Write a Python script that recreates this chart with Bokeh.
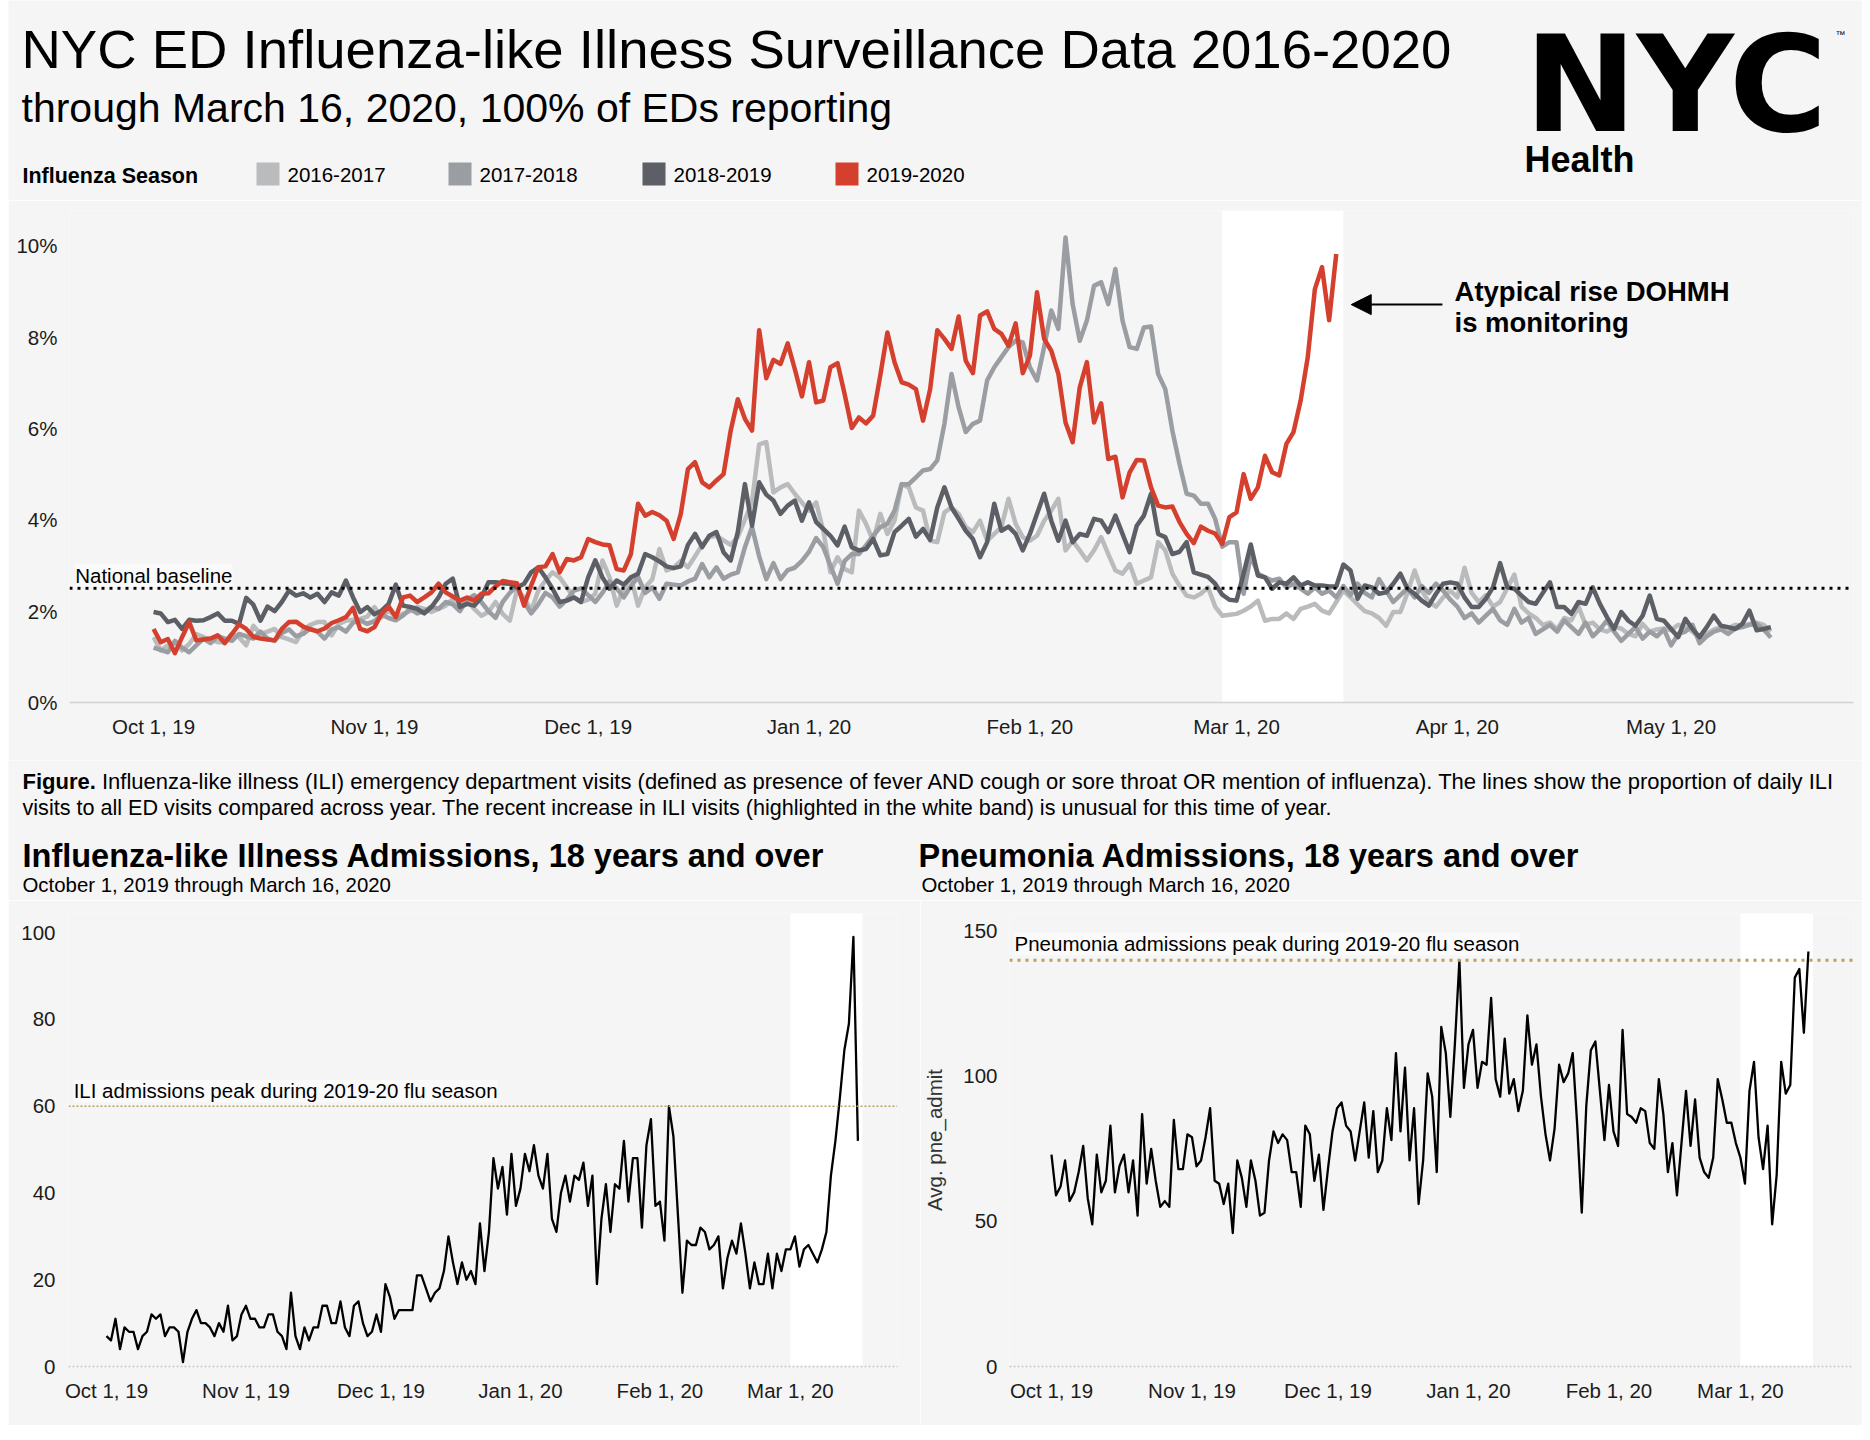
import pandas as pd
from bokeh.plotting import figure
from bokeh.models import Range1d, FixedTicker, BoxAnnotation, Span, Label, Arrow, NormalHead
from bokeh.layouts import column, row
from bokeh.embed import file_html
from bokeh.resources import INLINE
from bokeh.core.properties import value

FONT = "Liberation Sans"
BG = "#f5f5f5"

# ---------------- data ----------------
season_start = "2019-10-01"   # day 0 of every season series (aligned by day of season)

ili_2016_17 = [
    1.43, 1.14, 1.25, 1.32, 1.14, 1.28, 1.50, 1.43, 1.38, 1.32,
    1.32, 1.50, 1.43, 1.25, 1.68, 1.50, 1.55, 1.61, 1.43, 1.38,
    1.32, 1.58, 1.70, 1.76, 1.76, 1.47, 1.72, 1.79, 1.81, 1.83,
    1.88, 2.09, 1.87, 2.01, 1.87, 1.94, 2.00, 2.09, 2.05, 1.98,
    2.05, 2.12, 2.27, 2.12, 2.23, 2.05, 1.90, 1.98, 2.20, 1.94,
    1.79, 2.45, 2.30, 2.01, 2.45, 2.67, 2.85, 2.74, 2.52, 2.30,
    2.20, 2.25, 2.38, 3.11, 2.74, 2.12, 2.50, 2.74, 2.12, 2.52,
    2.70, 3.36, 2.89, 2.95, 3.10, 2.96, 3.20, 3.45, 3.62, 3.65,
    3.55, 3.45, 3.62, 4.00, 4.40, 5.65, 5.70, 4.60, 4.71, 4.78,
    4.57, 4.38, 4.20, 4.38, 3.76, 2.85, 3.18, 2.92, 2.85, 4.20,
    3.91, 3.54, 4.13, 3.69, 3.98, 4.78, 4.71, 4.27, 4.20, 3.54,
    3.51, 4.16, 4.27, 4.13, 3.84, 3.73, 3.98, 3.54, 3.69, 3.84,
    4.46, 3.91, 3.62, 3.54, 3.65, 3.98, 4.20, 4.46, 3.33, 3.54,
    3.33, 3.11, 3.33, 3.62, 3.25, 2.89, 2.82, 3.03, 2.60, 2.67,
    2.74, 3.51, 3.33, 2.82, 2.56, 2.34, 2.30, 2.38, 2.52, 2.10,
    1.90, 1.92, 1.94, 2.01, 2.10, 2.23, 1.79, 1.83, 1.83, 1.95,
    1.83, 2.05, 2.10, 2.16, 2.01, 1.95, 2.20, 2.45, 2.30, 2.15,
    2.00, 1.95, 1.85, 1.68, 1.98, 1.98, 2.40, 2.89, 2.45, 2.20,
    2.10, 2.30, 2.45, 2.30, 2.95, 2.40, 2.20, 2.35, 2.10, 2.20,
    2.50, 2.80, 2.10, 1.95, 1.85, 1.70, 1.75, 1.60, 1.85, 1.80,
    2.10, 1.70, 1.75, 1.60, 1.55, 1.65, 1.62, 1.50, 1.45, 1.72,
    1.55, 1.60, 1.62, 1.58, 1.70, 1.65, 1.55, 1.42, 1.50, 1.60,
    1.65, 1.62, 1.70, 1.68, 1.72, 1.75, 1.70, 1.55,
]

ili_2017_18 = [
    1.20, 1.15, 1.10, 1.35, 1.20, 1.10, 1.25, 1.40, 1.30, 1.45,
    1.40, 1.35, 1.50, 1.45, 1.40, 1.55, 1.40, 1.35, 1.52, 1.60,
    1.45, 1.50, 1.62, 1.55, 1.40, 1.60, 1.65, 1.55, 1.75, 1.80,
    1.72, 1.78, 1.92, 1.85, 1.80, 1.90, 2.05, 1.95, 2.00, 2.10,
    2.05, 2.20, 2.15, 2.00, 2.25, 2.35, 2.20, 2.00, 1.85, 2.20,
    2.40, 2.55, 2.20, 1.95, 2.15, 2.40, 2.30, 2.10, 2.25, 2.45,
    2.50, 2.35, 2.20, 2.40, 2.65, 2.50, 2.30, 2.55, 2.75, 2.40,
    2.52, 2.27, 2.60, 2.58, 2.56, 2.65, 2.71, 3.03, 2.74, 2.96,
    2.71, 2.80, 2.85, 3.40, 3.84, 3.20, 2.70, 3.05, 2.70, 2.90,
    2.95, 3.10, 3.30, 3.60, 3.40, 3.00, 2.60, 3.10, 3.25, 3.25,
    3.44, 3.65, 3.84, 3.91, 4.20, 4.78, 4.78, 4.93, 5.08, 5.11,
    5.30, 6.10, 7.19, 6.46, 5.92, 6.10, 6.17, 7.05, 7.34, 7.56,
    7.78, 7.92, 7.88, 7.34, 7.05, 7.78, 8.58, 8.18, 10.18, 8.72,
    7.92, 8.36, 9.12, 9.20, 8.72, 9.49, 8.36, 7.78, 7.74, 8.21,
    8.23, 7.19, 6.86, 5.95, 5.22, 4.57, 4.53, 4.35, 4.35, 4.02,
    3.41, 3.51, 3.51, 2.38, 3.22, 2.82, 2.74, 2.67, 2.71, 2.52,
    2.60, 2.49, 2.38, 2.52, 2.38, 2.45, 2.30, 2.55, 2.35, 2.60,
    2.40, 2.30, 2.70, 2.45, 2.20, 2.35, 2.50, 2.30, 2.55, 2.40,
    2.60, 2.45, 2.25, 2.10, 1.85, 1.95, 1.75, 1.90, 2.05, 1.80,
    1.70, 2.05, 1.75, 1.85, 1.50, 1.60, 1.70, 1.55, 1.80, 1.65,
    1.50, 1.75, 1.45, 1.60, 1.80, 1.55, 1.35, 1.50, 1.65, 1.40,
    1.55, 1.45, 1.60, 1.25, 1.50, 1.55, 1.70, 1.30, 1.45, 1.55,
    1.60, 1.50, 1.62, 1.65, 1.70, 1.72, 1.60, 1.42,
]

ili_2018_19 = [
    1.98, 1.95, 1.76, 1.81, 1.61, 1.81, 1.79, 1.80, 1.87, 1.95,
    1.79, 1.79, 1.72, 2.29, 2.14, 1.79, 2.10, 2.00, 2.20, 2.45,
    2.34, 2.39, 2.30, 2.38, 2.20, 2.41, 2.34, 2.67, 2.30, 1.98,
    2.09, 1.93, 2.01, 2.16, 2.58, 2.12, 2.09, 2.05, 1.95, 2.09,
    2.30, 2.60, 2.71, 2.09, 2.16, 2.12, 2.30, 2.63, 2.63, 2.61,
    2.60, 2.52, 2.60, 2.85, 2.96, 2.74, 2.49, 2.20, 2.23, 2.30,
    2.20, 2.74, 3.11, 2.74, 2.49, 2.67, 2.58, 2.74, 2.82, 3.25,
    3.18, 3.09, 2.98, 2.94, 2.98, 3.45, 3.69, 3.40, 3.65, 3.73,
    3.29, 3.11, 3.73, 4.78, 3.87, 4.82, 4.55, 4.42, 4.13, 4.31,
    4.42, 3.98, 4.38, 3.95, 3.80, 3.65, 3.44, 3.85, 3.40, 3.33,
    3.36, 3.58, 3.22, 3.25, 3.73, 3.87, 4.02, 3.63, 3.80, 3.56,
    4.27, 4.71, 4.27, 4.02, 3.76, 3.58, 3.18, 3.51, 4.35, 3.76,
    3.85, 3.69, 3.33, 3.69, 4.13, 4.57, 3.98, 3.54, 3.98, 3.51,
    3.69, 3.65, 4.02, 3.98, 3.73, 4.09, 3.69, 3.29, 3.87, 4.09,
    4.57, 3.69, 3.62, 3.25, 3.30, 3.51, 2.85, 2.80, 2.75, 2.60,
    2.36, 2.25, 2.23, 2.82, 3.46, 2.78, 2.74, 2.49, 2.63, 2.60,
    2.74, 2.56, 2.63, 2.56, 2.56, 2.54, 2.54, 3.02, 2.89, 2.27,
    2.56, 2.52, 2.38, 2.41, 2.60, 2.82, 2.49, 2.38, 2.23, 2.12,
    2.38, 2.60, 2.63, 2.60, 2.30, 2.09, 2.09, 2.27, 2.52, 3.05,
    2.52, 2.49, 2.34, 2.20, 2.16, 2.40, 2.63, 2.09, 2.09, 1.94,
    2.20, 2.16, 2.52, 2.16, 1.87, 1.61, 1.98, 1.79, 1.68, 1.90,
    2.34, 1.83, 1.79, 1.61, 1.43, 1.83, 1.61, 1.43, 1.65, 1.90,
    1.68, 1.65, 1.61, 1.72, 2.01, 1.58, 1.61, 1.65,
]

ili_2019_20 = [
    1.61, 1.32, 1.39, 1.08, 1.43, 1.76, 1.36, 1.38, 1.40, 1.47,
    1.30, 1.50, 1.71, 1.61, 1.44, 1.40, 1.38, 1.36, 1.61, 1.76,
    1.77, 1.66, 1.60, 1.56, 1.62, 1.74, 1.80, 1.87, 2.07, 1.61,
    1.56, 1.65, 1.94, 2.10, 1.87, 2.30, 2.34, 2.20, 2.30, 2.41,
    2.60, 2.41, 2.32, 2.23, 2.30, 2.23, 2.38, 2.39, 2.54, 2.66,
    2.63, 2.61, 2.12, 2.56, 2.96, 2.98, 3.25, 2.85, 3.14, 3.11,
    3.18, 3.58, 3.51, 3.46, 3.44, 2.92, 2.89, 3.25, 4.35, 4.09,
    4.17, 4.10, 3.98, 3.58, 4.13, 5.11, 5.26, 4.82, 4.71, 4.86,
    5.00, 5.95, 6.64, 6.21, 5.95, 8.15, 7.10, 7.50, 7.41, 7.86,
    7.30, 6.70, 7.45, 6.57, 6.61, 7.34, 7.43, 6.75, 6.01, 6.24,
    6.11, 6.28, 7.16, 8.10, 7.45, 7.01, 6.96, 6.86, 6.17, 6.86,
    8.15, 7.96, 7.74, 8.45, 7.48, 7.21, 8.47, 8.56, 8.18, 8.07,
    7.81, 8.30, 7.21, 7.59, 8.98, 7.96, 7.70, 7.19, 6.13, 5.70,
    6.90, 7.45, 6.13, 6.55, 5.33, 5.38, 4.49, 5.04, 5.31, 5.30,
    4.71, 4.31, 4.27, 4.29, 3.95, 3.69, 3.49, 3.85, 3.76, 3.70,
    3.47, 4.06, 4.16, 5.00, 4.46, 4.71, 5.40, 5.04, 4.97, 5.66,
    5.92, 6.61, 7.56, 9.05, 9.53, 8.37, 9.82,
]

ili_admissions = [
    7, 6, 11, 4, 9, 8, 8, 4, 7, 8,
    12, 11, 12, 7, 9, 9, 8, 1, 8, 11,
    13, 10, 10, 9, 7, 10, 8, 14, 6, 7,
    12, 14, 11, 11, 9, 9, 12, 12, 8, 7,
    4, 17, 7, 4, 9, 6, 9, 9, 14, 14,
    10, 10, 15, 9, 7, 14, 15, 10, 7, 8,
    12, 8, 19, 16, 11, 13, 13, 13, 13, 21,
    21, 18, 15, 17, 18, 22, 30, 24, 19, 24,
    20, 22, 19, 33, 22, 31, 48, 41, 46, 35,
    49, 37, 41, 49, 45, 51, 44, 41, 49, 34,
    31, 40, 44, 38, 44, 43, 47, 37, 44, 19,
    34, 42, 31, 42, 41, 52, 38, 48, 48, 32,
    51, 57, 37, 38, 29, 60, 53, 35, 17, 29,
    28, 28, 32, 31, 27, 28, 30, 18, 25, 29,
    26, 33, 26, 18, 24, 19, 19, 26, 18, 26,
    22, 27, 27, 30, 23, 27, 28, 26, 24, 27,
    31, 44, 52, 62, 73, 79, 99, 52,
]

pne_admissions = [
    73, 59, 62, 71, 57, 60, 67, 76, 58, 49,
    73, 60, 64, 83, 60, 69, 73, 60, 71, 52,
    87, 63, 75, 64, 55, 57, 55, 85, 68, 68,
    80, 79, 69, 71, 79, 89, 64, 63, 56, 63,
    46, 71, 65, 55, 71, 64, 52, 53, 71, 81,
    77, 80, 78, 67, 67, 55, 83, 80, 64, 73,
    54, 68, 81, 89, 91, 83, 81, 71, 81, 91,
    72, 88, 67, 71, 89, 78, 108, 81, 103, 71,
    89, 56, 71, 101, 93, 67, 117, 108, 86, 111,
    140, 96, 111, 116, 96, 105, 104, 127, 99, 93,
    113, 94, 99, 88, 95, 121, 104, 111, 93, 80,
    71, 82, 104, 98, 101, 108, 83, 53, 90, 109,
    112, 95, 78, 97, 81, 76, 116, 87, 86, 84,
    89, 88, 77, 75, 99, 87, 67, 77, 59, 77,
    95, 76, 92, 72, 67, 65, 72, 99, 92, 84,
    84, 77, 72, 63, 95, 105, 79, 68, 83, 49,
    66, 105, 94, 97, 134, 137, 115, 143,
]

season_labels = ["2016-2017", "2017-2018", "2018-2019", "2019-2020"]
season_colors = ["#b9bbbd", "#9a9da2", "#5c5f66", "#d5402e"]
season_values = [ili_2016_17, ili_2017_18, ili_2018_19, ili_2019_20]

top_tick_dates = ["2019-10-01", "2019-11-01", "2019-12-01", "2020-01-01",
                  "2020-02-01", "2020-03-01", "2020-04-01", "2020-05-01"]
top_tick_labels = ["Oct 1, 19", "Nov 1, 19", "Dec 1, 19", "Jan 1, 20",
                   "Feb 1, 20", "Mar 1, 20", "Apr 1, 20", "May 1, 20"]
bottom_tick_dates = top_tick_dates[:6]
bottom_tick_labels = top_tick_labels[:6]

pct_ticks = [0, 2, 4, 6, 8, 10]
pct_labels = ["0%", "2%", "4%", "6%", "8%", "10%"]
ili_ticks = [0, 20, 40, 60, 80, 100]
pne_ticks = [0, 50, 100, 150]

national_baseline = 2.5
ili_peak = 60
pne_peak = 140

top_band = ("2020-02-28", "2020-03-16")
bottom_band = ("2020-03-01", "2020-03-17")


def day_of(d):
    return (pd.Timestamp(d) - pd.Timestamp(season_start)).days


# ---------------- helpers ----------------
def canvas(w, h):
    p = figure(width=w, height=h, x_range=Range1d(0, w), y_range=Range1d(h, 0),
               toolbar_location=None, output_backend="svg", min_border=0,
               min_border_left=0, min_border_right=0, min_border_top=0, min_border_bottom=0,
               x_axis_location=None, y_axis_location=None, frame_align=False,
               background_fill_color=BG, border_fill_color=BG, outline_line_color=None)
    p.grid.visible = False
    return p


def txt(p, x, y, s, size, bold=False, font=FONT, align="left", color="#000000"):
    # y is the vertical centre of the text line
    p.text(x=[x], y=[y], text=[s], text_font=value(font), text_font_size=value(size),
           text_font_style="bold" if bold else "normal", text_baseline="middle",
           text_align=align, text_color=color)


def style_axes(p, xticks, xlabels, yticks, ylabels, xline_color, xline_dash=None):
    p.grid.visible = False
    for ax in (p.xaxis, p.yaxis):
        ax.major_tick_line_color = None
        ax.minor_tick_line_color = None
        ax.major_tick_out = 0
        ax.major_tick_in = 0
        ax.major_label_text_font = FONT
        ax.major_label_text_font_size = "20.5px"
        ax.major_label_text_color = "#1c1c1c"
        ax.major_label_standoff = 12
    p.xaxis.ticker = FixedTicker(ticks=xticks)
    p.xaxis.major_label_overrides = {t: l for t, l in zip(xticks, xlabels)}
    p.yaxis.ticker = FixedTicker(ticks=yticks)
    p.yaxis.major_label_overrides = {t: l for t, l in zip(yticks, ylabels)}
    p.yaxis.axis_line_color = None
    p.xaxis.axis_line_color = xline_color
    p.xaxis.axis_line_width = 1.5
    if xline_dash:
        p.xaxis.axis_line_dash = xline_dash


# ---------------- header ----------------
W = 1854
header = canvas(W, 200)
txt(header, 13, 49, "NYC ED Influenza-like Illness Surveillance Data 2016-2020", "54.5px")
txt(header, 13, 107, "through March 16, 2020, 100% of EDs reporting", "41px")
txt(header, 14, 175, "Influenza Season", "21.5px", bold=True)
swatch_x = [248, 440, 634, 827]
header.quad(left=swatch_x, right=[x + 23 for x in swatch_x], top=[162] * 4, bottom=[185] * 4,
            fill_color=season_colors, line_color=None)
header.text(x=[x + 31 for x in swatch_x], y=[174] * 4, text=season_labels,
            text_font=value(FONT), text_font_size=value("20.5px"), text_baseline="middle",
            text_color="#000000")
txt(header, 1516, 84, "NYC", "134px", bold=True, font="DejaVu Sans")
txt(header, 1827, 34, "™", "10px")
txt(header, 1516, 159, "Health", "36px", bold=True)

# ---------------- main chart ----------------
top = figure(width=W, height=560, x_range=Range1d(-11.8, 238.6), y_range=Range1d(0, 10.77),
             toolbar_location=None, output_backend="svg", frame_align=False,
             min_border_left=61, min_border_right=9, min_border_top=10, min_border_bottom=58,
             background_fill_color=BG, border_fill_color=BG, outline_line_color=None)
top.add_layout(BoxAnnotation(left=day_of(top_band[0]), right=day_of(top_band[1]),
                             fill_color="#ffffff", fill_alpha=1.0, line_color=None, level="underlay"))
for vals, col in zip(season_values, season_colors):
    top.line(list(range(len(vals))), vals, line_color=col, line_width=4.5, line_join="round")
top.add_layout(Span(location=national_baseline, dimension="width", line_color="#000000",
                    line_width=3, line_dash="3 5"))
top.add_layout(Label(x=-11.0, y=2.79, text="National baseline", text_font=FONT,
                     text_font_size="20.5px", text_baseline="middle", text_color="#000000",
                     background_fill_color="#fafafa", background_fill_alpha=1.0))
top.add_layout(Arrow(end=NormalHead(size=20, fill_color="#000000", line_color="#000000"),
                     x_start=180.9, y_start=8.71, x_end=168.1, y_end=8.71,
                     line_color="#000000", line_width=2))
top.add_layout(Label(x=182.6, y=9.0, text="Atypical rise DOHMH", text_font=FONT, text_color="#000000",
                     text_font_size="27.5px", text_font_style="bold", text_baseline="middle"))
top.add_layout(Label(x=182.6, y=8.32, text="is monitoring", text_font=FONT, text_color="#000000",
                     text_font_size="27.5px", text_font_style="bold", text_baseline="middle"))
top_ticks = [day_of(d) for d in top_tick_dates]
style_axes(top, top_ticks, top_tick_labels, pct_ticks, pct_labels, "#d2d2d2")

# ---------------- caption / sub-titles ----------------
mid = canvas(W, 140)
txt(mid, 14, 21, "Figure.", "22px", bold=True)
txt(mid, 93.5, 21, "Influenza-like illness (ILI) emergency department visits (defined as presence of fever AND "
                   "cough or sore throat OR mention of influenza). The lines show the proportion of daily ILI", "22px")
txt(mid, 14, 47, "visits to all ED visits compared across year. The recent increase in ILI visits "
                 "(highlighted in the white band) is unusual for this time of year.", "21.6px")
txt(mid, 14, 95, "Influenza-like Illness Admissions, 18 years and over", "32.5px", bold=True)
txt(mid, 910, 95, "Pneumonia Admissions, 18 years and over", "32.5px", bold=True)
txt(mid, 14, 124, "October 1, 2019 through March 16, 2020", "20.4px")
txt(mid, 913, 124, "October 1, 2019 through March 16, 2020", "20.4px")

bottom_ticks = [day_of(d) for d in bottom_tick_dates]
PEAK_COLOR = "#b3a25c"

# ILI admissions
ili_fig = figure(width=912, height=525, x_range=Range1d(-8.44, 175.8), y_range=Range1d(0, 104.4),
                 toolbar_location=None, output_backend="svg", frame_align=False,
                 min_border_left=60, min_border_right=23, min_border_top=13, min_border_bottom=59,
                 background_fill_color=BG, border_fill_color=BG, outline_line_color=None)
ili_fig.add_layout(BoxAnnotation(left=day_of(bottom_band[0]), right=day_of(bottom_band[1]),
                                 fill_color="#ffffff", fill_alpha=1.0, line_color=None, level="underlay"))
ili_fig.add_layout(Span(location=ili_peak, dimension="width", line_color=PEAK_COLOR,
                        line_width=1.5, line_dash="2 2"))
ili_fig.add_layout(Label(x=-7.3, y=63.5, text="ILI admissions peak during 2019-20 flu season",
                         text_font=FONT, text_font_size="20.5px", text_baseline="middle", text_color="#000000",
                         background_fill_color="#fafafa", background_fill_alpha=1.0))
ili_fig.line(list(range(len(ili_admissions))), ili_admissions, line_color="#000000", line_width=2.3,
             line_join="round")
style_axes(ili_fig, bottom_ticks, bottom_tick_labels, ili_ticks, [str(t) for t in ili_ticks],
           "#c6c6c6", "2 2")
ili_fig.yaxis.major_label_standoff = 13

# Pneumonia admissions
pne_fig = figure(width=942, height=525, x_range=Range1d(-9.26, 176.95), y_range=Range1d(0, 156.1),
                 toolbar_location=None, output_backend="svg", frame_align=False,
                 min_border_left=88, min_border_right=9, min_border_top=13, min_border_bottom=59,
                 background_fill_color=BG, border_fill_color=BG, outline_line_color=None)
pne_fig.add_layout(BoxAnnotation(left=day_of(bottom_band[0]), right=day_of(bottom_band[1]),
                                 fill_color="#ffffff", fill_alpha=1.0, line_color=None, level="underlay"))
pne_fig.add_layout(Span(location=pne_peak, dimension="width", line_color=PEAK_COLOR,
                        line_width=3, line_dash="3 5"))
pne_fig.add_layout(Label(x=-8.15, y=145.6, text="Pneumonia admissions peak during 2019-20 flu season",
                         text_font=FONT, text_font_size="20.5px", text_baseline="middle", text_color="#000000",
                         background_fill_color="#fafafa", background_fill_alpha=1.0))
pne_fig.line(list(range(len(pne_admissions))), pne_admissions, line_color="#000000", line_width=2.3,
             line_join="round")
style_axes(pne_fig, bottom_ticks, bottom_tick_labels, pne_ticks, [str(t) for t in pne_ticks],
           "#c6c6c6", "2 2")
pne_fig.yaxis.axis_label = "Avg. pne_admit"
pne_fig.yaxis.axis_label_text_font = FONT
pne_fig.yaxis.axis_label_text_font_size = "20.5px"
pne_fig.yaxis.axis_label_text_font_style = "normal"
pne_fig.yaxis.axis_label_text_color = "#333333"
pne_fig.yaxis.axis_label_standoff = 14

layout = column(header, top, mid, row(ili_fig, pne_fig, spacing=0), spacing=0, margin=(0, 8, 8, 8))
open("out.html", "w").write(file_html(layout, INLINE))
